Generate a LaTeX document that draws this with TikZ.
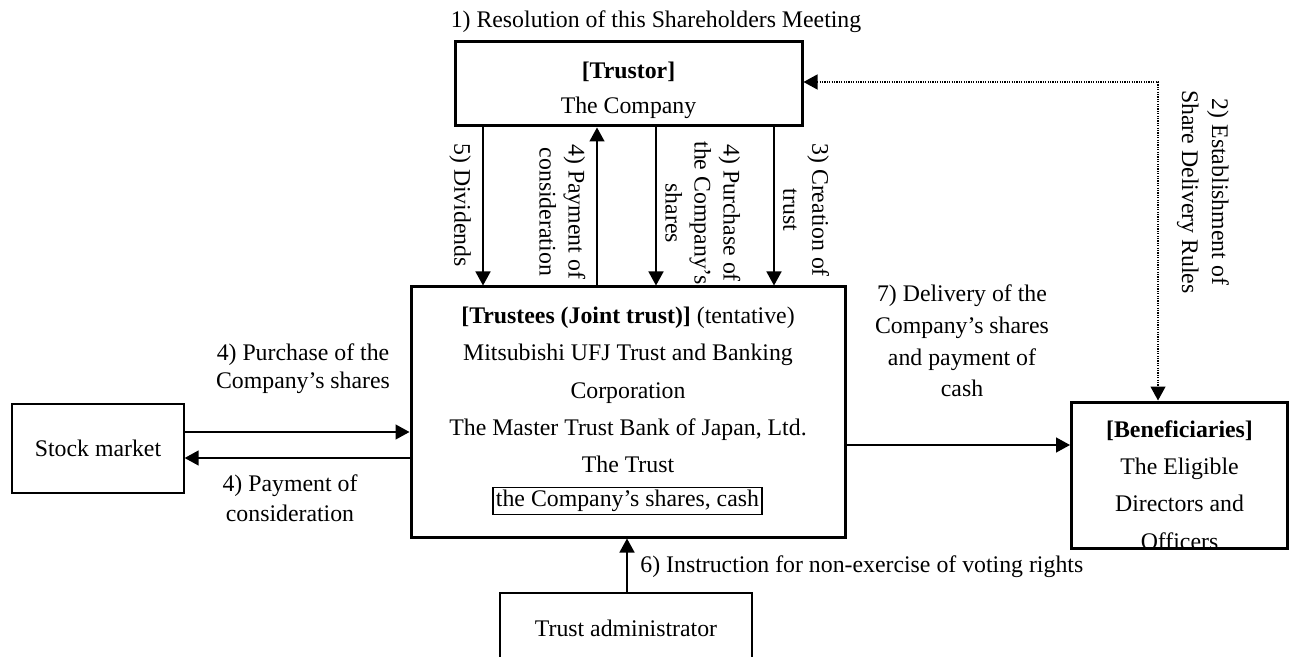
\documentclass[tikz,border=0pt]{standalone}
\usepackage{fontspec}
\setmainfont{Liberation Serif}
\usetikzlibrary{arrows.meta}
\tikzset{
  every node/.style={font=\fontsize{11.9}{18.6}\selectfont},
  thickbox/.style={draw, line width=1.5pt, inner sep=0pt},
  thinbox/.style={draw, line width=0.65pt, inner sep=0pt},
  txt/.style={align=center, inner sep=0pt},
  vlab/.style={align=center, inner sep=0pt, rotate=-90, anchor=west},
  arr/.style={line width=0.7pt, -{Triangle[length=7pt,width=7.5pt]}},
  dotarr/.style={line width=0.6pt, dash pattern=on 0.6pt off 0.6pt,
    {Triangle[length=7pt,width=7.5pt]}-{Triangle[length=7pt,width=7.5pt]}},
}
\begin{document}
\begin{tikzpicture}[x=0.5pt, y=-0.5pt]
\useasboundingbox (0,0) rectangle (1289,657);
% boxes
\node[thickbox, minimum width=173.5pt, minimum height=42pt] (trustor) at (628.5,84) {};
\node[txt, font=\fontsize{11.9}{17.5}\selectfont] (trustortxt) at (628.5,90) {\textbf{[Trustor]}\\The Company};
\node[thickbox, minimum width=217pt, minimum height=125pt] (trustee) at (628,412) {};
\node[txt] (trusteetxt) at (628,390) {\textbf{[Trustees (Joint trust)]} (tentative)\\Mitsubishi UFJ Trust and Banking\\Corporation\\The Master Trust Bank of Japan, Ltd.\\The Trust};
\node[thinbox, inner sep=1.5pt] (holdings) at (627.5,501) {the Company’s shares, cash};
\node[thinbox, minimum width=86pt, minimum height=44.5pt] (stock) at (98,448.5) {Stock market};
\node[thickbox, minimum width=108pt, minimum height=73pt] (benef) at (1179.5,475) {};
\node[txt] (beneftxt) at (1179.5,485) {\textbf{[Beneficiaries]}\\The Eligible\\Directors and\\Officers};
\begin{scope}
\clip (0,0) rectangle (1289,657);
\node[thinbox, minimum width=126pt, minimum height=35pt] (admin) at (626,628) {Trust administrator};
\end{scope}
% helper coordinates
\coordinate (xdiv) at (483,0);
\coordinate (xpay) at (597,0);
\coordinate (xpur) at (656,0);
\coordinate (xcre) at (774,0);
\coordinate (ybuy) at (0,432);
\coordinate (ypay) at (0,458);
\coordinate (ydel) at (0,445);
\coordinate (xdot) at (1158,0);
\coordinate (ydot) at (0,82);
\coordinate (xadm) at (627,0);
% connectors
\draw[arr] (trustor.south -| xdiv) -- (trustee.north -| xdiv);
\draw[arr] (trustee.north -| xpay) -- (trustor.south -| xpay);
\draw[arr] (trustor.south -| xpur) -- (trustee.north -| xpur);
\draw[arr] (trustor.south -| xcre) -- (trustee.north -| xcre);
\draw[arr] (stock.east |- ybuy) -- (trustee.west |- ybuy);
\draw[arr] (trustee.west |- ypay) -- (stock.east |- ypay);
\draw[arr] (trustee.east |- ydel) -- (benef.west |- ydel);
\draw[arr] (admin.north -| xadm) -- (trustee.south -| xadm);
\draw[dotarr] (trustor.east |- ydot) -| (benef.north -| xdot);
% labels
\node[txt] (l1) at (656,22) {1) Resolution of this Shareholders Meeting};
\node[vlab] (l5) at (460,143) {5) Dividends};
\node[vlab, font=\fontsize{11.9}{14.5}\selectfont] (l4a) at (562.5,144) {4) Payment of\\consideration};
\node[vlab, font=\fontsize{11.9}{14.5}\selectfont] (l4b) at (703,141) {4) Purchase of\\the Company’s\\shares};
\node[vlab, font=\fontsize{11.9}{14.5}\selectfont] (l3) at (806,143) {3) Creation of\\trust};
\node[txt, rotate=-90, font=\fontsize{11.9}{15}\selectfont] (l2) at (1203,192) {2) Establishment of\\Share Delivery Rules};
\node[txt, font=\fontsize{11.9}{15.9}\selectfont] (l7) at (962,341) {7) Delivery of the\\Company’s shares\\and payment of\\cash};
\node[txt, font=\fontsize{11.9}{14}\selectfont] (l4c) at (303,369) {4) Purchase of the\\Company’s shares};
\node[txt, font=\fontsize{11.9}{15}\selectfont] (l4d) at (290,498) {4) Payment of\\consideration};
\node[txt, anchor=west] (l6) at (640,567) {6) Instruction for non-exercise of voting rights};
\end{tikzpicture}
\end{document}
